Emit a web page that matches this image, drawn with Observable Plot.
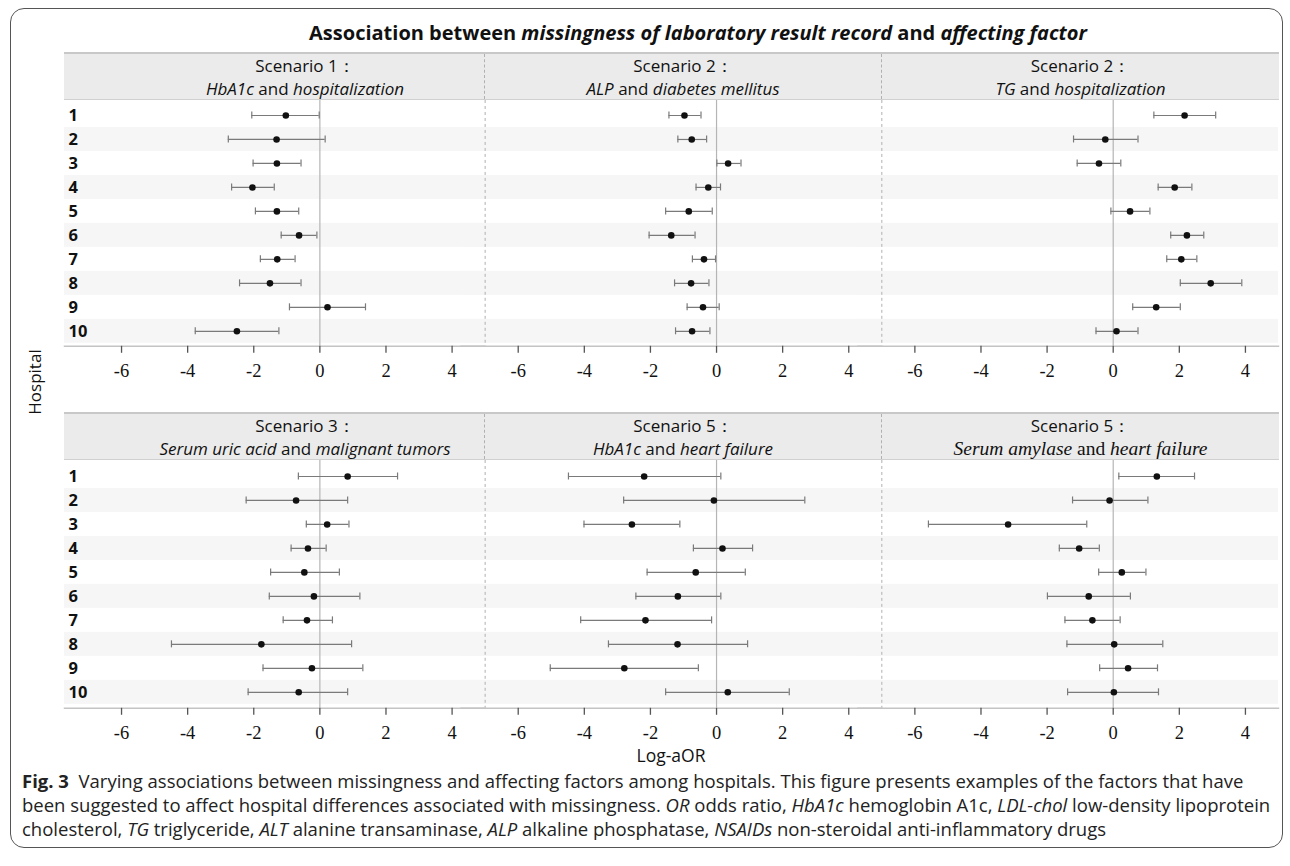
<!DOCTYPE html>
<html>
<head>
<meta charset="utf-8">
<script src="https://cdn.jsdelivr.net/npm/d3@7"></script>
<script src="https://cdn.jsdelivr.net/npm/@observablehq/plot@0.6"></script>
<style>
  body { margin: 0; background: #fff; }
  #root { position: relative; width: 1290px; height: 866px; font-family: "Open Sans", sans-serif; color: #111; overflow: hidden; }
  .frame { position: absolute; left: 10px; top: 8px; width: 1273px; height: 840px; border: 1.3px solid #555; border-radius: 14px; box-sizing: border-box; }
  .title { position: absolute; left: 0; width: 1396px; top: 19px; text-align: center; font-weight: 700; font-size: 20px; line-height: 28px; white-space: nowrap; }
  .header { position: absolute; left: 64px; width: 1215px; height: 48px; box-sizing: border-box; background: #ebebeb; border-top: 2px solid #c8c8c8; border-bottom: 1.5px solid #d0d0d0; display: flex; }
  .hcell { box-sizing: border-box; height: 100%; text-align: center; font-size: 17px; line-height: 23px; white-space: nowrap; }
  .hcell.sep { border-right: 1px dashed #b0b0b0; }
  .hcell .serif { font-family: "Liberation Serif", serif; font-size: 19.5px; }
  .plotwrap { position: absolute; left: 40px; }
  .ylab { position: absolute; left: 35px; top: 382px; transform: translate(-50%, -50%) rotate(-90deg); font-size: 17px; line-height: 20px; white-space: nowrap; }
  .xlab { position: absolute; left: 671px; top: 743.4px; transform: translateX(-50%); font-size: 17.5px; line-height: 24px; white-space: nowrap; }
  .caption { position: absolute; left: 22px; top: 768.5px; font-size: 18.5px; line-height: 24px; color: #222; white-space: nowrap; }
</style>
</head>
<body>
<div id="root">
  <div class="frame"></div>
  <div class="title" id="title"></div>
  <div class="header" id="h0" style="top:52px"></div>
  <div class="plotwrap" id="p0" style="top:100px"></div>
  <div class="header" id="h1" style="top:412px"></div>
  <div class="plotwrap" id="p1" style="top:460px"></div>
  <div class="ylab">Hospital</div>
  <div class="xlab">Log-aOR</div>
  <div class="caption" id="caption"></div>
</div>
<script>
// ---------------- data ----------------
const hospitals = ["1", "2", "3", "4", "5", "6", "7", "8", "9", "10"];
const panelKeys = ["p1", "p2", "p3", "p4", "p5", "p6"];
const scenarioTitles = ["Scenario 1：", "Scenario 2：", "Scenario 2：", "Scenario 3：", "Scenario 5：", "Scenario 5："];
const scenarioSubtitles = [
  [["HbA1c", true], [" and ", false], ["hospitalization", true]],
  [["ALP", true], [" and ", false], ["diabetes mellitus", true]],
  [["TG", true], [" and ", false], ["hospitalization", true]],
  [["Serum uric acid", true], [" and ", false], ["malignant tumors", true]],
  [["HbA1c", true], [" and ", false], ["heart failure", true]],
  [["Serum amylase", true], [" and ", false], ["heart failure", true]]
];
const subtitleSerif = [false, false, false, false, false, true];

// log-aOR point estimates and CI bounds per panel, hospitals 1..10
const est1 = [-1.03, -1.31, -1.30, -2.04, -1.30, -0.63, -1.29, -1.51, 0.23, -2.51];
const lo1  = [-2.06, -2.77, -2.02, -2.67, -1.95, -1.17, -1.80, -2.43, -0.92, -3.77];
const hi1  = [-0.02, 0.16, -0.57, -1.38, -0.64, -0.09, -0.75, -0.57, 1.38, -1.24];

const est2 = [-0.97, -0.75, 0.35, -0.25, -0.84, -1.37, -0.38, -0.77, -0.41, -0.74];
const lo2  = [-1.44, -1.17, 0.01, -0.62, -1.54, -2.04, -0.73, -1.27, -0.89, -1.24];
const hi2  = [-0.47, -0.30, 0.74, 0.12, -0.13, -0.65, -0.03, -0.23, 0.08, -0.20];

const est3 = [2.16, -0.24, -0.43, 1.86, 0.51, 2.23, 2.06, 2.95, 1.30, 0.10];
const lo3  = [1.23, -1.20, -1.09, 1.36, -0.07, 1.74, 1.62, 2.03, 0.59, -0.52];
const hi3  = [3.10, 0.75, 0.23, 2.38, 1.11, 2.74, 2.53, 3.89, 2.03, 0.75];

const est4 = [0.84, -0.72, 0.22, -0.36, -0.47, -0.18, -0.39, -1.77, -0.24, -0.64];
const lo4  = [-0.65, -2.23, -0.41, -0.87, -1.49, -1.53, -1.11, -4.49, -1.72, -2.17];
const hi4  = [2.35, 0.84, 0.88, 0.19, 0.59, 1.21, 0.38, 0.96, 1.30, 0.84];

const est5 = [-2.19, -0.08, -2.56, 0.18, -0.63, -1.17, -2.15, -1.18, -2.79, 0.34];
const lo5  = [-4.48, -2.81, -4.01, -0.70, -2.10, -2.44, -4.11, -3.27, -5.03, -1.54];
const hi5  = [0.13, 2.67, -1.11, 1.09, 0.87, 0.13, -0.15, 0.94, -0.55, 2.20];

const est6 = [1.32, -0.11, -3.18, -1.03, 0.26, -0.74, -0.63, 0.03, 0.45, 0.02];
const lo6  = [0.17, -1.23, -5.59, -1.63, -0.44, -1.99, -1.46, -1.40, -0.41, -1.38];
const hi6  = [2.46, 1.05, -0.80, -0.42, 0.99, 0.52, 0.21, 1.50, 1.34, 1.37];

const estimates = [est1, est2, est3, est4, est5, est6];
const lowers = [lo1, lo2, lo3, lo4, lo5, lo6];
const uppers = [hi1, hi2, hi3, hi4, hi5, hi6];

const xDomain = [-7, 5];
const xTicks = [-6, -4, -2, 0, 2, 4];

// ---------------- text ----------------
document.getElementById("title").innerHTML =
  'Association between <i>missingness of laboratory result record</i> and <i>affecting factor</i>';

document.getElementById("caption").innerHTML =
  '<b>Fig. 3</b>&nbsp; Varying associations between missingness and affecting factors among hospitals. This figure presents examples of the factors that have<br>' +
  'been suggested to affect hospital differences associated with missingness. <i>OR</i> odds ratio, <i>HbA1c</i> hemoglobin A1c, <i>LDL-chol</i> low-density lipoprotein<br>' +
  'cholesterol, <i>TG</i> triglyceride, <i>ALT</i> alanine transaminase, <i>ALP</i> alkaline phosphatase, <i>NSAIDs</i> non-steroidal anti-inflammatory drugs';

function buildHeader(el, idx) {
  idx.forEach((i, k) => {
    const c = document.createElement("div");
    c.className = "hcell" + (k < 2 ? " sep" : "");
    c.style.width = (k === 0 ? 421 : 397) + "px";
    if (k === 0) c.style.paddingLeft = "62px";
    const sub = scenarioSubtitles[i].map(([t, it]) => it ? "<i>" + t + "</i>" : t).join("");
    c.innerHTML = '<div>' + scenarioTitles[i] + '</div><div' + (subtitleSerif[i] ? ' class="serif"' : '') + '>' + sub + '</div>';
    el.appendChild(c);
  });
}

function buildBlock(el, idx, frameH) {
  const keys = idx.map(i => panelKeys[i]);
  const rows = [];
  idx.forEach(i => hospitals.forEach((h, j) => rows.push({
    panel: panelKeys[i], hospital: h, est: estimates[i][j], lo: lowers[i][j], hi: uppers[i][j]
  })));
  const stripeRows = keys.flatMap(k => hospitals.filter((_, j) => j % 2 === 1).map(h => ({panel: k, hospital: h})));
  const plot = Plot.plot({
    width: 1251,
    height: frameH + 50,
    marginLeft: 48,
    marginRight: 12,
    marginTop: 0,
    marginBottom: 50,
    style: {background: "transparent", overflow: "visible", color: "#111", fontFamily: "'Open Sans', sans-serif"},
    x: {domain: xDomain, label: null},
    y: {domain: hospitals, padding: 0, label: null},
    fx: {domain: keys, padding: 0, label: null, axis: null},
    marks: [
      Plot.cell(stripeRows, {fx: "panel", y: "hospital", fill: "#f6f6f6", insetLeft: -24}),
      Plot.ruleX([0], {stroke: "#b5b5b5", strokeWidth: 1.2}),
      Plot.ruleX(keys.slice(0, 2), {fx: d => d, x: xDomain[1], stroke: "#b0b0b0", strokeDasharray: "3,3"}),
      Plot.frame({anchor: "bottom", stroke: "#c4c4c4", strokeWidth: 1.5, insetLeft: -24}),
      Plot.ruleY(rows, {fx: "panel", y: "hospital", x1: "lo", x2: "hi", stroke: "#7a7a7a", strokeWidth: 1.2}),
      Plot.tickX(rows, {fx: "panel", y: "hospital", x: "lo", stroke: "#7a7a7a", strokeWidth: 1.2, insetTop: 8.5, insetBottom: 8.5}),
      Plot.tickX(rows, {fx: "panel", y: "hospital", x: "hi", stroke: "#7a7a7a", strokeWidth: 1.2, insetTop: 8.5, insetBottom: 8.5}),
      Plot.dot(rows, {fx: "panel", x: "est", y: "hospital", r: 3.3, fill: "#111", stroke: "none"}),
      Plot.axisX({ticks: xTicks, tickSize: 7, tickPadding: 11, tickFormat: d => String(d), fontSize: 18.5,
                  fontFamily: "'Liberation Serif', serif", stroke: "#555", strokeWidth: 1.3}),
      Plot.axisY({tickSize: 0, tickPadding: 20, textAnchor: "start", fontWeight: "bold", fontSize: 16.5,
                  fontFamily: "'Open Sans', sans-serif"})
    ]
  });
  el.appendChild(plot);
}

buildHeader(document.getElementById("h0"), [0, 1, 2]);
buildHeader(document.getElementById("h1"), [3, 4, 5]);
buildBlock(document.getElementById("p0"), [0, 1, 2], 246);
buildBlock(document.getElementById("p1"), [3, 4, 5], 248);
</script>
</body>
</html>
